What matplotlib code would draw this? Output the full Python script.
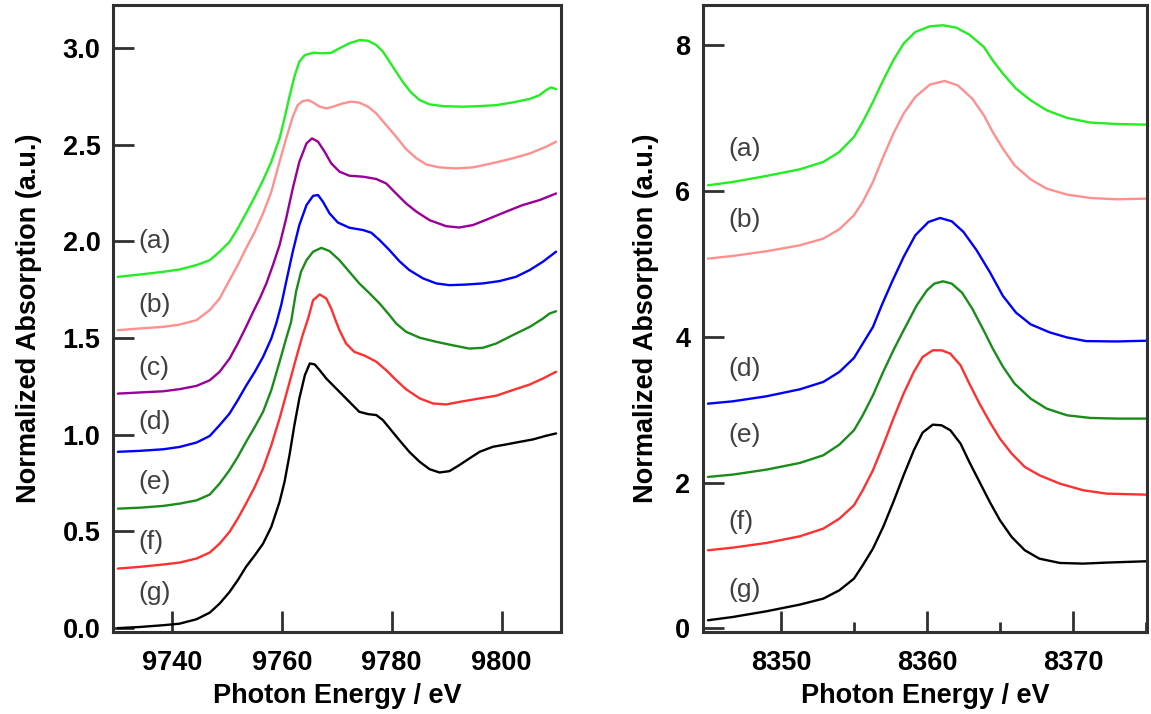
import matplotlib
matplotlib.use("Agg")
import matplotlib.pyplot as plt
from matplotlib.ticker import FixedLocator

plt.rcParams['font.family'] = ['Liberation Sans', 'DejaVu Sans']

# ---------------- Left panel ----------------
left_labels = ["(a)", "(b)", "(c)", "(d)", "(e)", "(f)", "(g)"]
left_colors = ["#22ee22", "#ff9090", "#990099", "#0000ff", "#1a8c1a", "#ff3030", "#000000"]

la_x = [9730.2, 9734.2, 9738.4, 9741.4, 9744.5, 9746.9, 9748.7, 9750.5, 9752.0, 9753.5, 9755.1, 9756.6,
        9758.1, 9759.6, 9760.5, 9761.4, 9762.3, 9763.2, 9764.2, 9765.7, 9767.5, 9769.0, 9770.5, 9772.3,
        9774.2, 9775.7, 9777.2, 9778.4, 9779.6, 9780.8, 9782.0, 9783.5, 9785.1, 9786.9, 9789.3, 9792.9,
        9796.0, 9799.0, 9802.0, 9805.1, 9806.9, 9808.1, 9809.0, 9809.9]
la_y = [1.817, 1.829, 1.843, 1.855, 1.878, 1.903, 1.947, 1.998, 2.067, 2.145, 2.231, 2.317,
        2.412, 2.533, 2.637, 2.749, 2.852, 2.930, 2.964, 2.976, 2.973, 2.976, 2.999, 3.025,
        3.042, 3.038, 3.016, 2.982, 2.930, 2.878, 2.826, 2.771, 2.731, 2.709, 2.700, 2.697,
        2.700, 2.705, 2.719, 2.737, 2.757, 2.783, 2.797, 2.788]

lb_x = [9730.2, 9734.2, 9738.4, 9741.4, 9744.5, 9746.9, 9748.7, 9750.5, 9752.0, 9753.5, 9755.1, 9756.6,
        9758.1, 9759.6, 9760.8, 9762.0, 9762.9, 9763.8, 9764.8, 9765.7, 9766.9, 9768.1, 9769.3, 9771.1,
        9772.6, 9774.1, 9775.7, 9777.2, 9779.0, 9780.8, 9782.6, 9784.5, 9786.3, 9788.7, 9791.7, 9794.8,
        9799.0, 9802.0, 9805.1, 9808.1, 9809.9]
lb_y = [1.541, 1.550, 1.558, 1.570, 1.593, 1.645, 1.705, 1.800, 1.878, 1.964, 2.050, 2.145,
        2.257, 2.412, 2.533, 2.645, 2.705, 2.726, 2.731, 2.719, 2.697, 2.688, 2.697, 2.714,
        2.723, 2.718, 2.697, 2.662, 2.602, 2.542, 2.478, 2.430, 2.398, 2.383, 2.378, 2.383,
        2.409, 2.430, 2.455, 2.490, 2.516]

lc_x = [9730.2, 9734.2, 9738.4, 9741.4, 9744.5, 9746.9, 9748.7, 9750.5, 9752.0, 9753.5, 9754.8, 9756.0,
        9757.2, 9758.4, 9759.6, 9760.8, 9762.0, 9763.2, 9764.5, 9765.5, 9766.6, 9767.8, 9769.0, 9770.5,
        9772.3, 9774.8, 9777.2, 9779.0, 9780.8, 9782.6, 9784.5, 9786.9, 9789.9, 9792.3, 9794.8, 9797.8,
        9800.8, 9803.8, 9806.9, 9809.9]
lc_y = [1.213, 1.219, 1.225, 1.236, 1.253, 1.282, 1.326, 1.394, 1.472, 1.558, 1.636, 1.705,
        1.783, 1.878, 1.981, 2.119, 2.274, 2.412, 2.507, 2.533, 2.516, 2.464, 2.404, 2.361,
        2.340, 2.335, 2.323, 2.300, 2.248, 2.197, 2.154, 2.110, 2.079, 2.072, 2.085, 2.119,
        2.154, 2.188, 2.214, 2.248]

ld_x = [9730.2, 9734.2, 9738.4, 9741.4, 9744.5, 9746.9, 9748.7, 9750.5, 9752.0, 9753.5, 9755.1, 9756.6,
        9758.1, 9759.0, 9759.9, 9760.8, 9762.0, 9763.2, 9764.5, 9765.7, 9766.6, 9767.5, 9768.7, 9770.2,
        9772.3, 9774.8, 9776.3, 9777.8, 9779.6, 9781.4, 9783.2, 9785.7, 9788.1, 9790.5, 9793.5, 9796.6,
        9799.6, 9802.6, 9805.1, 9807.5, 9809.9]
ld_y = [0.912, 0.917, 0.925, 0.937, 0.960, 0.994, 1.050, 1.110, 1.179, 1.253, 1.326, 1.403,
        1.498, 1.576, 1.671, 1.791, 1.947, 2.085, 2.188, 2.236, 2.240, 2.205, 2.145, 2.098,
        2.071, 2.059, 2.045, 2.007, 1.955, 1.898, 1.852, 1.809, 1.783, 1.774, 1.777, 1.783,
        1.795, 1.817, 1.852, 1.895, 1.947]

le_x = [9730.2, 9734.2, 9738.4, 9741.4, 9744.5, 9746.9, 9748.7, 9750.5, 9752.0, 9753.5, 9755.1, 9756.6,
        9758.1, 9759.6, 9760.8, 9761.7, 9762.6, 9763.5, 9764.5, 9765.7, 9767.2, 9768.7, 9770.5, 9772.3,
        9774.1, 9776.0, 9777.8, 9779.6, 9780.8, 9782.6, 9785.1, 9788.1, 9791.1, 9794.1, 9796.6, 9799.0,
        9802.0, 9805.1, 9807.5, 9808.7, 9809.9]
le_y = [0.618, 0.623, 0.632, 0.644, 0.661, 0.691, 0.748, 0.817, 0.886, 0.963, 1.041, 1.119,
        1.231, 1.377, 1.498, 1.584, 1.740, 1.843, 1.903, 1.947, 1.967, 1.950, 1.903, 1.843,
        1.783, 1.731, 1.679, 1.619, 1.576, 1.533, 1.502, 1.481, 1.463, 1.446, 1.450, 1.472,
        1.515, 1.558, 1.601, 1.627, 1.639]

lf_x = [9730.2, 9734.2, 9738.4, 9741.4, 9744.5, 9746.9, 9748.7, 9750.5, 9752.0, 9753.5, 9755.1, 9756.6,
        9758.1, 9759.6, 9761.1, 9762.6, 9763.8, 9764.8, 9765.7, 9766.9, 9768.1, 9769.0, 9769.9, 9770.5,
        9771.7, 9773.2, 9775.1, 9777.2, 9779.0, 9780.8, 9782.6, 9785.1, 9787.5, 9789.9, 9792.3, 9796.0,
        9799.0, 9802.0, 9805.1, 9807.5, 9809.9]
lf_y = [0.308, 0.317, 0.329, 0.339, 0.360, 0.391, 0.437, 0.498, 0.567, 0.644, 0.731, 0.826,
        0.946, 1.084, 1.239, 1.395, 1.516, 1.602, 1.696, 1.726, 1.705, 1.653, 1.584, 1.541,
        1.472, 1.429, 1.409, 1.378, 1.334, 1.283, 1.236, 1.188, 1.162, 1.157, 1.170, 1.188,
        1.202, 1.231, 1.260, 1.291, 1.326]

lg_x = [9730.2, 9734.2, 9738.4, 9741.4, 9744.5, 9746.9, 9748.7, 9750.5, 9752.0, 9753.5, 9755.1, 9756.6,
        9758.1, 9759.6, 9760.5, 9761.4, 9762.3, 9763.2, 9764.2, 9765.1, 9766.0, 9766.9, 9768.1, 9769.6,
        9771.1, 9772.6, 9774.1, 9775.7, 9777.2, 9778.4, 9779.9, 9781.4, 9783.2, 9785.1, 9786.9, 9788.7,
        9790.5, 9792.3, 9794.1, 9796.0, 9798.4, 9800.8, 9803.2, 9805.7, 9808.1, 9809.9]
lg_y = [0.000, 0.006, 0.015, 0.023, 0.046, 0.080, 0.127, 0.187, 0.248, 0.317, 0.377, 0.437,
        0.524, 0.653, 0.756, 0.894, 1.050, 1.188, 1.308, 1.369, 1.364, 1.334, 1.291, 1.248,
        1.205, 1.162, 1.119, 1.107, 1.102, 1.076, 1.024, 0.972, 0.912, 0.860, 0.822, 0.805,
        0.812, 0.843, 0.877, 0.912, 0.938, 0.950, 0.963, 0.976, 0.995, 1.007]

left_label_y = [2.00, 1.67, 1.345, 1.066, 0.755, 0.445, 0.181]

# ---------------- Right panel ----------------
right_labels = ["(a)", "(b)", "(d)", "(e)", "(f)", "(g)"]
right_colors = ["#22ee22", "#ff9090", "#0000ff", "#1a8c1a", "#ff3030", "#000000"]

ra_x = [8345.0, 8346.7, 8349.0, 8351.3, 8352.9, 8354.0, 8355.0, 8355.6, 8356.3, 8357.0, 8357.7, 8358.4,
        8359.2, 8360.2, 8361.1, 8362.0, 8362.9, 8363.9, 8364.5, 8365.2, 8366.1, 8367.1, 8368.2, 8369.6,
        8371.2, 8373.0, 8375.0]
ra_y = [6.077, 6.123, 6.205, 6.297, 6.397, 6.534, 6.740, 6.946, 7.220, 7.517, 7.792, 8.020,
        8.180, 8.258, 8.272, 8.240, 8.144, 7.974, 7.792, 7.609, 7.403, 7.243, 7.106, 7.001,
        6.937, 6.918, 6.909]

rb_x = [8345.0, 8346.7, 8349.0, 8351.3, 8352.9, 8354.0, 8355.0, 8355.6, 8356.3, 8357.0, 8357.7, 8358.4,
        8359.2, 8360.2, 8361.2, 8362.1, 8363.1, 8363.9, 8364.5, 8365.2, 8366.0, 8367.1, 8368.2, 8369.6,
        8371.2, 8373.0, 8375.0]
rb_y = [5.071, 5.108, 5.172, 5.254, 5.346, 5.474, 5.666, 5.849, 6.123, 6.466, 6.786, 7.060,
        7.289, 7.458, 7.508, 7.449, 7.266, 7.037, 6.809, 6.580, 6.351, 6.159, 6.031, 5.949,
        5.903, 5.885, 5.894]

rd_x = [8345.0, 8346.7, 8349.0, 8351.3, 8352.9, 8354.0, 8355.0, 8355.6, 8356.3, 8356.9, 8357.6, 8358.4,
        8359.2, 8360.1, 8360.9, 8361.7, 8362.5, 8363.4, 8364.3, 8365.2, 8366.1, 8367.1, 8368.4, 8369.6,
        8370.9, 8373.0, 8375.0]
rd_y = [3.082, 3.114, 3.183, 3.279, 3.380, 3.517, 3.709, 3.905, 4.134, 4.431, 4.751, 5.094,
        5.391, 5.574, 5.629, 5.583, 5.437, 5.186, 4.888, 4.560, 4.330, 4.170, 4.060, 3.990,
        3.940, 3.935, 3.945]

re_x = [8345.0, 8346.7, 8349.0, 8351.3, 8352.9, 8354.0, 8355.0, 8355.6, 8356.3, 8357.0, 8357.7, 8358.4,
        8359.3, 8360.0, 8360.5, 8361.1, 8361.7, 8362.4, 8363.1, 8363.9, 8364.5, 8365.2, 8366.0, 8367.1,
        8368.2, 8369.6, 8371.2, 8373.0, 8375.0]
re_y = [2.077, 2.109, 2.177, 2.269, 2.374, 2.520, 2.717, 2.922, 3.197, 3.517, 3.814, 4.088,
        4.431, 4.637, 4.728, 4.760, 4.728, 4.605, 4.386, 4.080, 3.840, 3.590, 3.357, 3.151,
        3.014, 2.922, 2.886, 2.877, 2.877]

rf_x = [8345.0, 8346.7, 8349.0, 8351.3, 8352.9, 8354.0, 8355.0, 8355.6, 8356.3, 8357.0, 8357.7, 8358.4,
        8359.1, 8359.7, 8360.4, 8361.0, 8361.6, 8362.3, 8362.9, 8363.6, 8364.3, 8365.0, 8365.8, 8366.7,
        8367.7, 8369.1, 8370.7, 8372.3, 8375.0]
rf_y = [1.071, 1.107, 1.171, 1.263, 1.368, 1.505, 1.688, 1.894, 2.168, 2.511, 2.877, 3.220,
        3.517, 3.722, 3.814, 3.814, 3.768, 3.608, 3.357, 3.082, 2.831, 2.602, 2.397, 2.214,
        2.100, 1.985, 1.894, 1.848, 1.834]

rg_x = [8345.0, 8346.7, 8349.0, 8351.3, 8352.9, 8354.0, 8355.0, 8355.6, 8356.3, 8357.0, 8357.7, 8358.4,
        8359.1, 8359.7, 8360.4, 8361.0, 8361.6, 8362.3, 8362.9, 8363.6, 8364.3, 8365.0, 8365.8, 8366.7,
        8367.7, 8369.1, 8370.7, 8372.3, 8375.0]
rg_y = [0.111, 0.156, 0.234, 0.326, 0.408, 0.522, 0.682, 0.865, 1.094, 1.391, 1.734, 2.099,
        2.442, 2.685, 2.794, 2.785, 2.717, 2.534, 2.282, 2.008, 1.734, 1.482, 1.254, 1.071,
        0.956, 0.897, 0.888, 0.902, 0.920]

right_label_y = [6.58, 5.60, 3.56, 2.65, 1.46, 0.52]

left_x = [la_x, lb_x, lc_x, ld_x, le_x, lf_x, lg_x]
left_y = [la_y, lb_y, lc_y, ld_y, le_y, lf_y, lg_y]
right_x = [ra_x, rb_x, rd_x, re_x, rf_x, rg_x]
right_y = [ra_y, rb_y, rd_y, re_y, rf_y, rg_y]

xlabel = "Photon Energy / eV"
ylabel = "Normalized Absorption (a.u.)"

fig = plt.figure(figsize=(11.51, 7.14), dpi=100)
axL = fig.add_axes([113 / 1151, 1 - 632 / 714, 448 / 1151, 627 / 714])
axR = fig.add_axes([703 / 1151, 1 - 632 / 714, 444 / 1151, 627 / 714])

spine_col = "#303030"
for ax in (axL, axR):
    for s in ax.spines.values():
        s.set_linewidth(2.2)
        s.set_color(spine_col)
    ax.tick_params(axis='both', which='major', direction='in', length=15, width=2.0,
                   color=spine_col, labelsize=19.5, top=False, right=False)
    ax.tick_params(axis='x', which='major', pad=13)
    ax.tick_params(axis='y', which='major', pad=9)
    ax.tick_params(axis='x', which='minor', direction='in', length=7.5, width=2.0,
                   color=spine_col, top=False)
    ax.set_xlabel(xlabel, fontsize=19.5, fontweight='bold', labelpad=5)

axL.set_ylabel(ylabel, fontsize=19.5, fontweight='bold', labelpad=15)
axR.set_ylabel(ylabel, fontsize=19.5, fontweight='bold', labelpad=12)

for xs, ys, c in zip(left_x, left_y, left_colors):
    axL.plot(xs, ys, color=c, lw=1.7, solid_joinstyle='round', solid_capstyle='round')
for lab, y in zip(left_labels, left_label_y):
    axL.text(9734.0, y, lab, fontsize=19, color="#404040", va='center', ha='left')

axL.set_xlim(9729.3, 9810.8)
axL.set_ylim(-0.02, 3.223)
axL.xaxis.set_major_locator(FixedLocator([9740, 9760, 9780, 9800]))
axL.yaxis.set_major_locator(FixedLocator([0.0, 0.5, 1.0, 1.5, 2.0, 2.5, 3.0]))
axL.set_yticklabels(["0.0", "0.5", "1.0", "1.5", "2.0", "2.5", "3.0"], fontweight='bold')
axL.set_xticklabels(["9740", "9760", "9780", "9800"], fontweight='bold')

for xs, ys, c in zip(right_x, right_y, right_colors):
    axR.plot(xs, ys, color=c, lw=1.7, solid_joinstyle='round', solid_capstyle='round')
for lab, y in zip(right_labels, right_label_y):
    axR.text(8346.4, y, lab, fontsize=19, color="#404040", va='center', ha='left')

axR.set_xlim(8344.66, 8375.07)
axR.set_ylim(-0.05, 8.55)
axR.xaxis.set_major_locator(FixedLocator([8350, 8360, 8370]))
axR.xaxis.set_minor_locator(FixedLocator([8355, 8365, 8375]))
axR.yaxis.set_major_locator(FixedLocator([0, 2, 4, 6, 8]))
axR.set_yticklabels(["0", "2", "4", "6", "8"], fontweight='bold')
axR.set_xticklabels(["8350", "8360", "8370"], fontweight='bold')

fig.savefig("out.png", dpi=100)
